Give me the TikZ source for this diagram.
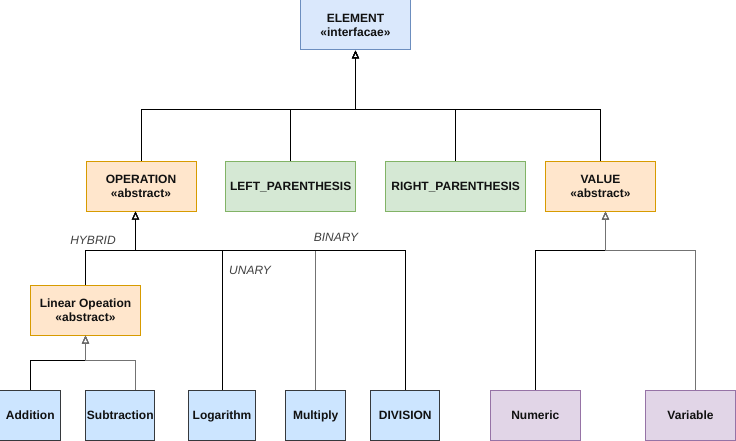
\documentclass[tikz,border=0pt]{standalone}
\usepackage{fontspec}
\setmainfont{Liberation Sans}
\usepackage{tikz}
\usetikzlibrary{arrows.meta}
\usepackage{xcolor}

\definecolor{ifill}{HTML}{DAE8FC}
\definecolor{idraw}{HTML}{6C8EBF}
\definecolor{afill}{HTML}{FFE6CC}
\definecolor{adraw}{HTML}{D79B00}
\definecolor{pfill}{HTML}{D5E8D4}
\definecolor{pdraw}{HTML}{82B366}
\definecolor{cfill}{HTML}{CCE5FF}
\definecolor{cdraw}{HTML}{36393D}
\definecolor{vfill}{HTML}{E1D5E7}
\definecolor{vdraw}{HTML}{9673A6}
\definecolor{txt}{HTML}{111111}

\tikzset{
  cls/.style={draw, line width=1pt, text=txt, align=center, inner sep=0pt,
    minimum height=50pt, font=\fontsize{12}{14}\selectfont\bfseries},
  oneline/.style={cls, text height=8.6pt, text depth=0.6pt},
  iface/.style={cls, fill=ifill, draw=idraw},
  abst/.style={cls, fill=afill, draw=adraw},
  paren/.style={oneline, fill=pfill, draw=pdraw},
  oper/.style={oneline, fill=cfill, draw=cdraw},
  valbox/.style={oneline, fill=vfill, draw=vdraw},
  gen/.style={draw=black, line width=1pt, -{Triangle[open, width=7pt, length=8pt]}},
  gengrey/.style={gen, draw=black!55},
  kind/.style={text=black!75, font=\fontsize{12}{14}\selectfont\itshape}
}

\begin{document}
\begin{tikzpicture}[x=1pt, y=-1pt]
      \useasboundingbox (0,0) rectangle (736,441);
      % classes
      \node[iface, minimum width=110pt] (elem) at (355.5,25) {ELEMENT\\«interfacae»};
      \node[abst, minimum width=110pt] (opn) at (141,186) {OPERATION\\«abstract»};
      \node[paren, minimum width=130pt] (lpar) at (290.7,186) {LEFT\_PARENTHESIS};
      \node[paren, minimum width=140pt] (rpar) at (455.7,186) {RIGHT\_PARENTHESIS};
      \node[abst, minimum width=110pt] (val) at (600.5,186) {VALUE\\«abstract»};
      \node[abst, minimum width=110pt] (lin) at (85.5,310) {Linear Opeation\\«abstract»};
      \node[oper, minimum width=60.7pt] (add) at (30.3,415) {Addition};
      \node[oper, minimum width=69.3pt] (sub) at (120.3,415) {Subtraction};
      \node[oper, minimum width=67.7pt] (log) at (222,415) {Logarithm};
      \node[oper, minimum width=60pt] (mul) at (315.7,415) {Multiply};
      \node[oper, minimum width=69.3pt] (div) at (405.3,415) {DIVISION};
      \node[valbox, minimum width=90pt] (num) at (535.3,415) {Numeric};
      \node[valbox, minimum width=89.6pt] (var) at (690.5,415) {Variable};
      % bus lines
      \coordinate (topbus) at (0,110);
      \coordinate (opbus) at (0,250);
      \coordinate (linbus) at (0,360);
      \coordinate (valbus) at (0,250);
      \coordinate (opin) at ([xshift=-5.5pt]opn.south);
      \coordinate (valin) at ([xshift=5pt]val.south);
      \coordinate (subout) at ([xshift=15pt]sub.north);
      \coordinate (varout) at ([xshift=4.5pt]var.north);
      % inheritance
      \draw[gen] (opn.north) -- (opn.north |- topbus) -| (elem.south);
      \draw[gen] (lpar.north) -- (lpar.north |- topbus) -| (elem.south);
      \draw[gen] (rpar.north) -- (rpar.north |- topbus) -| (elem.south);
      \draw[gen] (val.north) -- (val.north |- topbus) -| (elem.south);
      \draw[gen] (lin.north) -- (lin.north |- opbus) -| (opin);
      \draw[gen] (log.north) -- (log.north |- opbus) -| (opin);
      \draw[gengrey] (mul.north) -- (mul.north |- opbus) -| (opin);
      \draw[gen] (div.north) -- (div.north |- opbus) -| (opin);
      \draw[gen] (add.north) -- (add.north |- linbus) -| (lin.south);
      \draw[gengrey] (subout) -- (subout |- linbus) -| (lin.south);
      \draw[gen] (num.north) -- (num.north |- valbus) -| (valin);
      \draw[gengrey] (varout) -- (varout |- valbus) -| (valin);
      % kinds of operation
      \node[kind] (hybrid) at (93,240) {HYBRID};
      \node[kind] (binary) at (336,237) {BINARY};
      \node[kind] (unary) at (250,270) {UNARY};
    \end{tikzpicture}
\end{document}
